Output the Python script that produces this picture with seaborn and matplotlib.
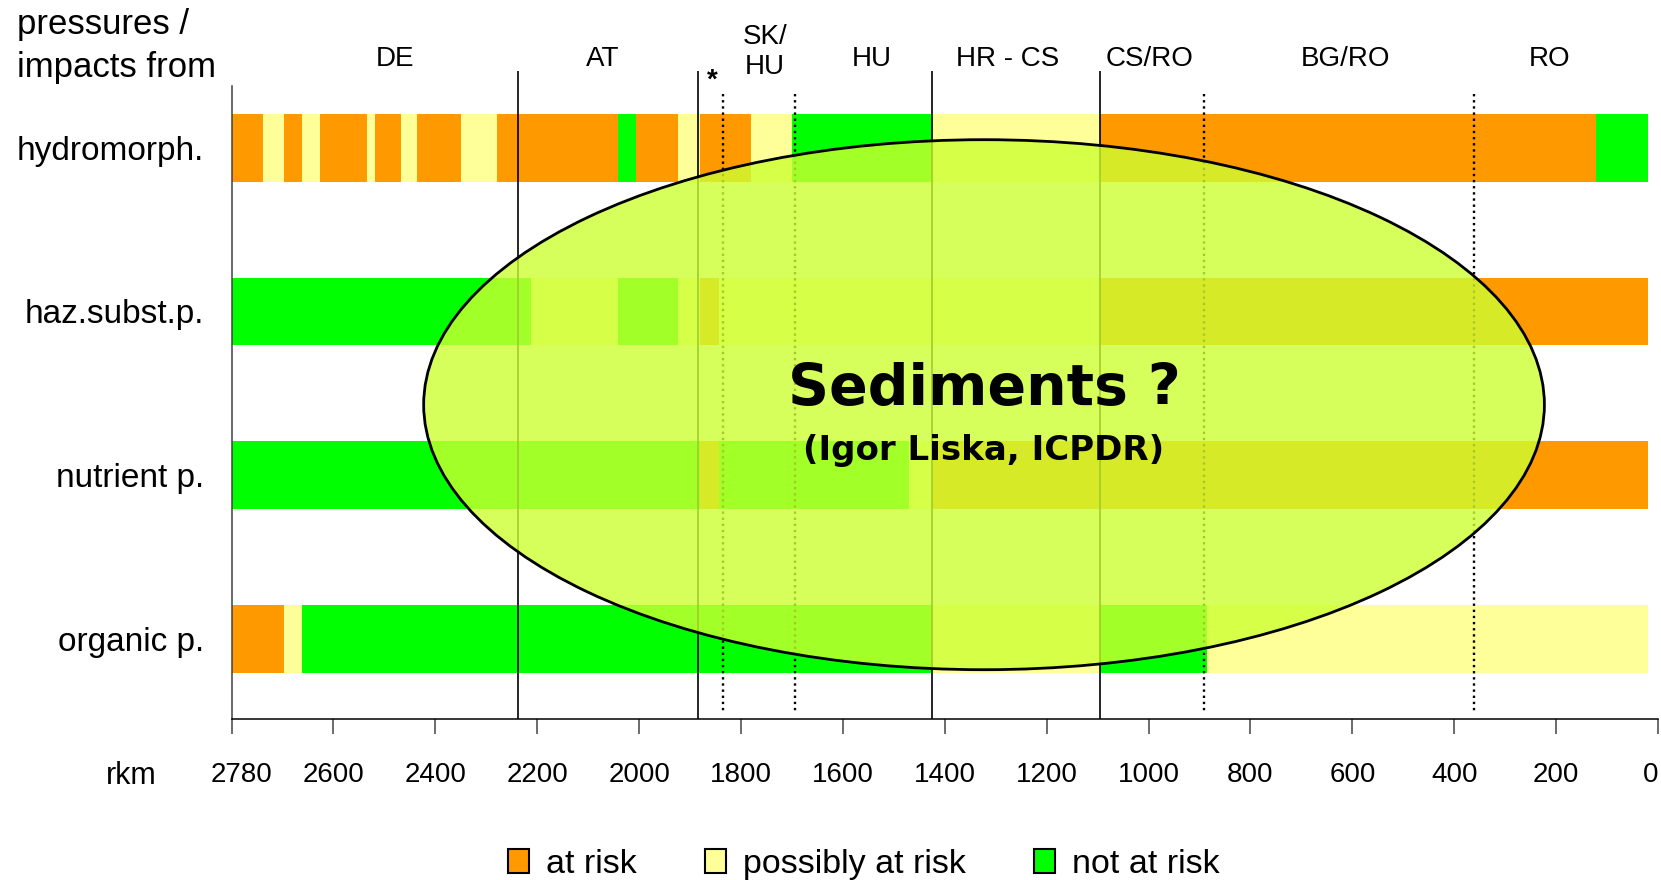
import matplotlib
matplotlib.use("Agg")
import matplotlib.pyplot as plt
from matplotlib.patches import Ellipse, Patch
from matplotlib.transforms import ScaledTranslation
import numpy as np
import pandas as pd
import seaborn as sns

# ---------------- data ----------------
rows = ["hydromorph.", "haz.subst.p.", "nutrient p.", "organic p."]
status_labels = ["at risk", "possibly at risk", "not at risk"]
A, P, N = status_labels

# segment end positions (km from the upstream end of the chart) and status of each segment
hydro_ends = [62, 103, 138, 174, 266, 282, 333, 364, 450, 521, 758, 794, 876, 919, 1019, 1100, 1375, 1705, 2678, 2780]
hydro_status = [A, P, A, P, A, P, A, P, A, P, A, N, A, P, A, P, N, P, A, N]
haz_ends = [588, 758, 876, 920, 957, 1705, 2780]
haz_status = [N, P, N, P, A, P, A]
nutr_ends = [920, 957, 1330, 1375, 2780]
nutr_status = [N, A, N, P, A]
org_ends = [103, 138, 1375, 1705, 1914, 2780]
org_status = [A, P, N, P, N, P]

tick_values = list(range(0, 2801, 200))
tick_labels = ["2780", "2600", "2400", "2200", "2000", "1800", "1600", "1400",
               "1200", "1000", "800", "600", "400", "200", "0"]

country_names = ["DE", "AT", "SK/\nHU", "HU", "HR - CS", "CS/RO", "BG/RO", "RO"]
country_pos = [321, 728, 1047, 1257, 1523, 1801, 2186, 2588]
border_solid = [563, 916, 1375, 1705]
border_dotted = [965, 1105, 1908, 2438]
star_pos = 943

colors = {A: "#FF9900", P: "#FFFF99", N: "#00FF00"}

# ---------------- build table ----------------
recs = []
for name, ends, stats in [(rows[0], hydro_ends, hydro_status), (rows[1], haz_ends, haz_status),
                          (rows[2], nutr_ends, nutr_status), (rows[3], org_ends, org_status)]:
    order = np.argsort(ends)[::-1]
    for rank, i in enumerate(order):
        recs.append({"row": name, "end": ends[i], "status": stats[i], "layer": rank})
df = pd.DataFrame(recs)

# ---------------- style ----------------
sns.set_theme(style="ticks")
plt.rcParams["font.family"] = ["Liberation Sans", "DejaVu Sans"]
plt.rcParams["text.color"] = "black"
plt.rcParams["xtick.color"] = "black"
plt.rcParams["ytick.color"] = "black"
plt.rcParams["axes.labelcolor"] = "black"

fig = plt.figure(figsize=(16.61, 8.8), dpi=100)
ax = fig.add_axes([0.13944, 0.18261, 0.85875, 0.71966])

bar_h = 0.4136
for layer in sorted(df["layer"].unique()):
    sub = df[df["layer"] == layer]
    sns.barplot(data=sub, x="end", y="row", hue="status", order=rows,
                hue_order=status_labels, palette=colors, dodge=False, orient="h",
                width=bar_h, saturation=1, errorbar=None, legend=False,
                linewidth=0, ax=ax)

ax.set_xlim(0, 2800)
ax.set_ylim(3.492, -0.377)
ax.set_xlabel("")
ax.set_ylabel("")

# borders
ax.vlines(border_solid, -0.468, 3.492, colors="black", linewidth=1.2,
          clip_on=False, zorder=3)
ax.vlines(border_dotted, -0.327, 3.452, colors="black", linewidth=1.7,
          linestyles=(0, (1, 1.6)), clip_on=False, zorder=3)

# ellipse annotation
ell = Ellipse((1477, 1.570), 2200, 3.238, facecolor=(0.8, 1.0, 0.2, 0.8),
              edgecolor="black", linewidth=2.0, zorder=4)
ax.add_patch(ell)
ax.text(1477, 1.48, "Sediments ?", ha="center", va="center", fontsize=41,
        fontweight="bold", family=["DejaVu Sans"], color="black", zorder=5)
ax.text(1477, 1.85, "(Igor Liska, ICPDR)", ha="center", va="center", fontsize=24.5,
        fontweight="bold", family=["DejaVu Sans"], color="black", zorder=5)

# country labels
for name, pos in zip(country_names, country_pos):
    y = -0.585 if "\n" in name else -0.545
    ax.text(pos, y, name, ha="center", va="center", fontsize=20,
            linespacing=1.2, clip_on=False)
ax.text(star_pos, -0.41, "*", ha="center", va="center", fontsize=20,
        fontweight="bold", clip_on=False)

# axes styling
for s in ["top", "right"]:
    ax.spines[s].set_visible(False)
ax.spines["left"].set_color("#404040")
ax.spines["left"].set_linewidth(1.1)
ax.spines["bottom"].set_color("black")
ax.spines["bottom"].set_linewidth(1.1)

ax.set_xticks(tick_values)
ax.set_xticklabels(tick_labels)
ax.tick_params(axis="x", bottom=True, direction="out", length=10.5, width=1.1,
               color="#444444", pad=20, labelsize=20)
ax.get_xticklabels()[-1].set_ha("right")
first_lab = ax.xaxis.get_major_ticks()[0].label1
first_lab.set_transform(first_lab.get_transform() +
                        ScaledTranslation(0.10, 0, fig.dpi_scale_trans))
ax.set_yticks(range(len(rows)))
ax.set_yticklabels(rows)
ax.tick_params(axis="y", left=False, length=0, pad=20, labelsize=24)

fig.text(131.5 / 1661, 1 - 776 / 880, "rkm", ha="center", va="center", fontsize=22)
fig.text(17 / 1661, 1 - 8 / 880, "pressures /\nimpacts from", ha="left", va="top",
         fontsize=25, linespacing=1.37)

handles = [Patch(facecolor=colors[s], edgecolor="black", linewidth=1.5) for s in status_labels]
fig.legend(handles, status_labels, loc="center", bbox_to_anchor=(864 / 1661, 1 - 864 / 880),
           ncol=3, frameon=False, fontsize=24.5, handlelength=0.62, handleheight=0.7,
           handletextpad=0.5, columnspacing=2.0)

fig.savefig("out.png", dpi=100)
